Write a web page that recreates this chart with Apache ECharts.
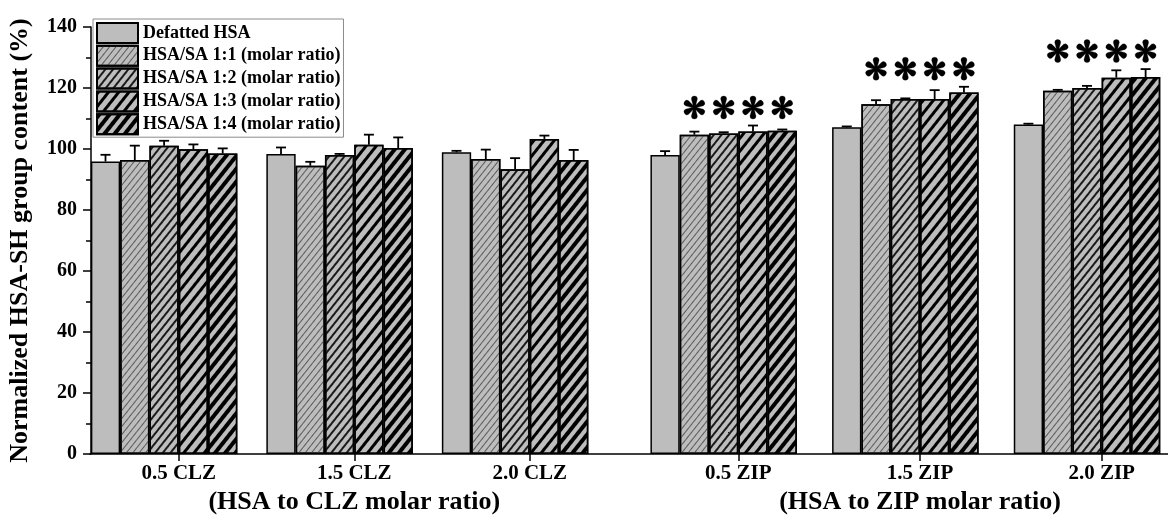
<!DOCTYPE html>
<html>
<head>
<meta charset="utf-8">
<script src="https://cdn.jsdelivr.net/npm/echarts@6/dist/echarts.min.js"></script>
<style>html,body{margin:0;padding:0;background:#fff}#c{width:1168px;height:518px}</style>
</head>
<body>
<div id="c"></div>
<script>
// ---------- data ----------
const seriesNames = ['Defatted HSA','HSA/SA 1:1 (molar ratio)','HSA/SA 1:2 (molar ratio)','HSA/SA 1:3 (molar ratio)','HSA/SA 1:4 (molar ratio)'];
const clzCategories = ['0.5 CLZ','1.5 CLZ','2.0 CLZ'];
const zipCategories = ['0.5 ZIP','1.5 ZIP','2.0 ZIP'];
const yTicks = [0,20,40,60,80,100,120,140];
// rows: series, columns: categories
const clzValues = [
  [95.9, 98.4, 98.9],
  [96.4, 94.5, 96.7],
  [101.1, 98.0, 93.4],
  [99.9, 101.4, 103.3],
  [98.5, 100.3, 96.4]
];
const clzErrors = [
  [2.2, 2.1, 0.5],
  [4.7, 1.3, 3.1],
  [1.6, 0.4, 3.6],
  [1.6, 3.3, 1.1],
  [1.7, 3.5, 3.3]
];
const zipValues = [
  [98.0, 107.1, 108.0],
  [104.7, 114.7, 119.1],
  [105.1, 116.4, 120.0],
  [105.7, 116.4, 123.4],
  [106.0, 118.5, 123.6]
];
const zipErrors = [
  [1.3, 0.3, 0.3],
  [1.0, 1.3, 0.3],
  [0.4, 0.2, 0.7],
  [2.0, 2.9, 2.4],
  [0.4, 1.9, 2.6]
];
// significance marks (*) per series for each ZIP category
const zipSignificant = [
  [false, true, true, true, true],
  [false, true, true, true, true],
  [false, true, true, true, true]
];

// ---------- styles ----------
const FONT = 'Liberation Serif';
const BAR_W = 29.3;
const FILL = '#bdbdbd';
const ROT = -0.9;
const decals = [
  null,
  {symbol:'rect', color:'#5a5a5a', dashArrayX:[1,0], dashArrayY:[1,3.2], rotation:ROT},
  {symbol:'rect', color:'#1a1a1a', dashArrayX:[1,0], dashArrayY:[1.6,3.4], rotation:ROT},
  {symbol:'rect', color:'#000', dashArrayX:[1,0], dashArrayY:[2.4,4.4], rotation:ROT},
  {symbol:'rect', color:'#000', dashArrayX:[1,0], dashArrayY:[3.4,3.2], rotation:ROT}
];

// six-petal asterisk path (teardrop petals) centred at (cx, cy)
function asteriskPath(cx, cy, R, r, w0) {
  let d = '';
  for (let k = 0; k < 6; k++) {
    const a = k * Math.PI / 3;
    const ux = Math.sin(a), uy = -Math.cos(a);
    const vx = -uy, vy = ux;
    const Cx = cx + ux * (R - r), Cy = cy + uy * (R - r);
    d += 'M' + (cx + vx * w0) + ' ' + (cy + vy * w0) +
         'L' + (Cx + vx * r) + ' ' + (Cy + vy * r) +
         'A' + r + ' ' + r + ' 0 0 0 ' + (Cx - vx * r) + ' ' + (Cy - vy * r) +
         'L' + (cx - vx * w0) + ' ' + (cy - vy * w0) + 'Z';
  }
  return d;
}

const chart = echarts.init(document.getElementById('c'), null, {renderer:'canvas'});

function barSeries(values, axisIdx) {
  const out = values.map((vals, s) => ({
    type:'bar', name: seriesNames[s], xAxisIndex: axisIdx, yAxisIndex: axisIdx,
    data: vals, barWidth: BAR_W, barGap:'0%',
    itemStyle: Object.assign({color: FILL, borderColor:'#000', borderWidth:1.5},
      decals[s] ? {decal: decals[s]} : {}),
    emphasis:{disabled:true}, z:2
  }));
  // empty sixth slot keeps the group layout of the original figure
  out.push({type:'bar', name:'_slot', xAxisIndex: axisIdx, yAxisIndex: axisIdx,
    data: values[0].map(() => '-'), barWidth: BAR_W, barGap:'0%'});
  return out;
}

function errorSeries(values, errors, axisIdx) {
  const data = [];
  values.forEach((vals, s) => vals.forEach((v, c) => data.push([c, s, v, errors[s][c]])));
  return {
    type:'custom', xAxisIndex: axisIdx, yAxisIndex: axisIdx, z:5, silent:true,
    encode:{x:0, y:2},
    data,
    renderItem(params, api) {
      const c = api.value(0), s = api.value(1), v = api.value(2), e = api.value(3);
      const p0 = api.coord([c, v]);
      const p1 = api.coord([c, v + e]);
      const x = p0[0] + (s - 2.5) * BAR_W;
      const st = {stroke:'#000', lineWidth:1.8};
      return {type:'group', children:[
        {type:'line', shape:{x1:x, y1:p0[1], x2:x, y2:p1[1]}, style:st},
        {type:'line', shape:{x1:x-5, y1:p1[1], x2:x+5, y2:p1[1]}, style:st}
      ]};
    }
  };
}

function starSeries(values, errors, marks, axisIdx) {
  const data = [];
  marks.forEach((row, c) => {
    let top = -Infinity;
    values.forEach((vals, s) => { top = Math.max(top, vals[c] + errors[s][c]); });
    row.forEach((m, s) => { if (m) data.push([c, s, top]); });
  });
  return {
    type:'custom', xAxisIndex: axisIdx, yAxisIndex: axisIdx, z:6, silent:true,
    encode:{x:0, y:2},
    data,
    renderItem(params, api) {
      const c = api.value(0), s = api.value(1), t = api.value(2);
      const p = api.coord([c, t]);
      const x = p[0] + (s - 2.5) * BAR_W;
      return {type:'path', shape:{pathData: asteriskPath(x, p[1] - 18, 11.5, 3.0, 0.7)},
        style:{fill:'#000', stroke:'#000', lineWidth:0.3}};
    }
  };
}

const axisLab = {color:'#000', fontFamily:FONT, fontWeight:'bold', fontSize:21};
const nameText = {color:'#000', fontFamily:FONT, fontWeight:'bold', fontSize:26};

function catAxis(cats, idx, title) {
  return {
    type:'category', gridIndex: idx, data: cats,
    axisLine:{show:false},
    axisTick:{show:true, alignWithLabel:true, length:7, inside:false, lineStyle:{color:'#000', width:1.5}},
    axisLabel:{...axisLab, margin:9},
    name: title, nameLocation:'middle', nameGap:31, nameTextStyle: nameText
  };
}
function valAxis(idx, show) {
  return {
    type:'value', gridIndex: idx, min: yTicks[0], max: yTicks[yTicks.length-1], interval: yTicks[1]-yTicks[0],
    show: show,
    axisLine:{show:true, lineStyle:{color:'#000', width:1.5}},
    axisTick:{show:true, length:8, lineStyle:{color:'#000', width:1.5}},
    minorTick:{show:true, splitNumber:2, length:5, lineStyle:{color:'#000', width:1.5}},
    splitLine:{show:false},
    axisLabel:{color:'#000', fontFamily:FONT, fontWeight:'bold', fontSize:20, margin:14},
    name:'Normalized HSA-SH group content (%)', nameLocation:'middle', nameGap:58, nameTextStyle: nameText
  };
}

const option = {
  animation:false,
  backgroundColor:'#fff',
  grid:[
    {left:91, width:526.5, top:27, bottom:64, outerBoundsMode:'none', containLabel:false},
    {left:647.5, width:545, top:27, bottom:64, outerBoundsMode:'none', containLabel:false},
    {left:90, right:0, top:27, bottom:64, outerBoundsMode:'none', containLabel:false}
  ],
  xAxis:[
    catAxis(clzCategories, 0, '(HSA to CLZ molar ratio)'),
    catAxis(zipCategories, 1, '(HSA to ZIP molar ratio)'),
    {type:'value', gridIndex:2, min:0, max:1, axisLine:{show:true, onZero:false, lineStyle:{color:'#000', width:1.5}},
     axisTick:{show:false}, axisLabel:{show:false}, splitLine:{show:false}}
  ],
  yAxis:[ valAxis(0, true), valAxis(1, false), {type:'value', gridIndex:2, show:false, min:0, max:1} ],
  legend:{
    data: seriesNames, orient:'vertical', left:93, top:19, icon:'rect',
    itemWidth:41, itemHeight:20, itemGap:0.8, padding:[3,3,2,3],
    borderColor:'#8a8a8a', borderWidth:1, backgroundColor:'#fff',
    textStyle:{color:'#000', fontFamily:FONT, fontWeight:'bold', fontSize:18, lineHeight:20},
    selectedMode:false
  },
  series:[
    ...barSeries(clzValues, 0),
    ...barSeries(zipValues, 1),
    errorSeries(clzValues, clzErrors, 0),
    errorSeries(zipValues, zipErrors, 1),
    starSeries(zipValues, zipErrors, zipSignificant, 1)
  ]
};
chart.setOption(option);
</script>
</body>
</html>
